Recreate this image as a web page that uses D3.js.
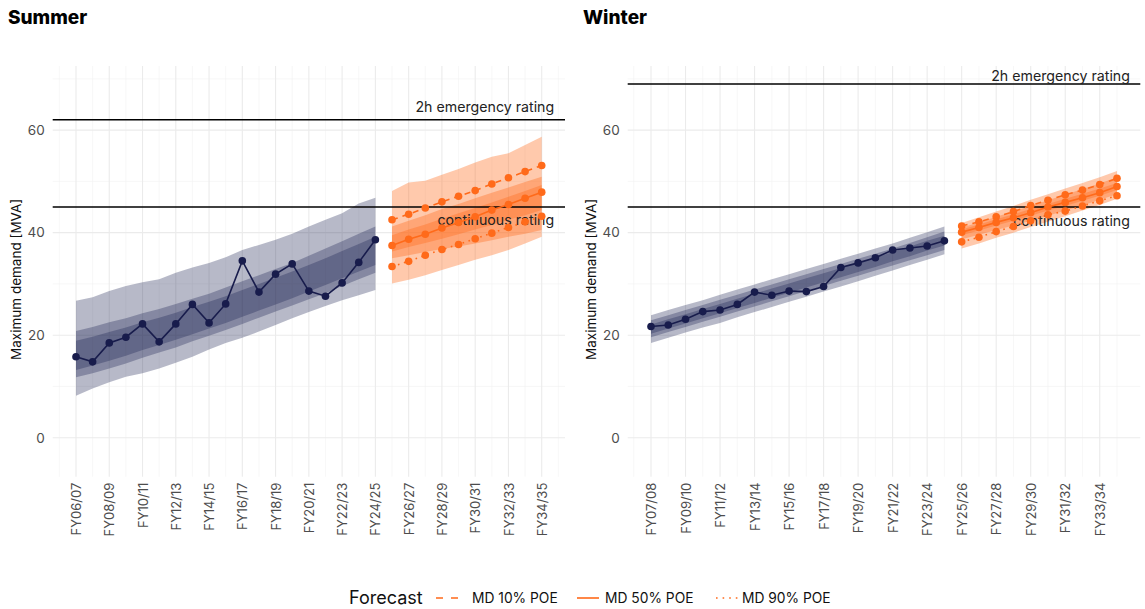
<!DOCTYPE html>
<html>
<head>
<meta charset="utf-8">
<script src="https://cdn.jsdelivr.net/npm/d3@7"></script>
<style>
body { margin: 0; background: #fff; font-family: Inter, "DejaVu Sans", sans-serif; }
</style>
</head>
<body>
<div id="chart"></div>
<script>
// ---- data ----
var summerHistYears = [2006, 2007, 2008, 2009, 2010, 2011, 2012, 2013, 2014, 2015, 2016, 2017, 2018, 2019, 2020, 2021, 2022, 2023, 2024];
var summerActual = [15.8, 14.8, 18.5, 19.6, 22.2, 18.7, 22.2, 26.0, 22.4, 26.1, 34.5, 28.4, 31.9, 33.9, 28.6, 27.6, 30.2, 34.2, 38.6];
var summerOuterHi = [26.7, 27.4, 28.6, 29.6, 30.3, 30.9, 32.2, 33.2, 34.1, 35.2, 36.6, 37.6, 38.6, 39.8, 41.2, 42.5, 43.8, 45.7, 46.8];
var summerOuterLo = [8.2, 9.6, 10.8, 11.9, 12.6, 13.5, 14.6, 15.8, 17.2, 18.5, 19.5, 20.7, 22.0, 23.3, 24.5, 25.7, 26.8, 27.8, 28.8];
var summerMidHi = [20.8, 21.6, 22.5, 23.3, 24.3, 25.1, 26.1, 27.1, 28.1, 29.3, 30.5, 31.7, 32.9, 34.1, 35.5, 36.9, 38.3, 39.8, 41.2];
var summerMidLo = [11.8, 12.6, 13.5, 14.5, 15.6, 16.6, 17.6, 18.8, 19.9, 21.0, 22.2, 23.4, 24.6, 25.8, 27.0, 28.2, 29.6, 30.9, 32.2];
var summerInHi = [18.9, 19.7, 20.6, 21.5, 22.5, 23.4, 24.4, 25.5, 26.5, 27.6, 28.8, 30.0, 31.2, 32.4, 33.7, 35.0, 36.4, 37.8, 39.2];
var summerInLo = [13.2, 14.1, 15.0, 16.0, 17.1, 18.1, 19.1, 20.2, 21.3, 22.4, 23.6, 24.8, 26.0, 27.2, 28.5, 29.8, 31.1, 32.4, 33.7];

var summerFcYears = [2025, 2026, 2027, 2028, 2029, 2030, 2031, 2032, 2033, 2034];
var summerP10 = [42.5, 43.6, 44.8, 46.0, 47.1, 48.2, 49.5, 50.7, 51.9, 53.1];
var summerP50 = [37.5, 38.7, 39.7, 40.9, 42.0, 43.1, 44.4, 45.5, 46.7, 47.9];
var summerP90 = [33.4, 34.4, 35.6, 36.7, 37.7, 38.8, 39.9, 41.0, 42.1, 43.2];
var summerFcOuterHi = [48.1, 49.8, 50.1, 51.3, 52.4, 53.7, 54.8, 55.5, 57.1, 58.7];
var summerFcOuterLo = [30.1, 30.8, 31.7, 32.7, 33.7, 34.7, 35.6, 36.6, 37.9, 39.2];
var summerFcMidHi = [41.2, 42.3, 43.4, 44.6, 45.6, 46.7, 47.8, 48.8, 49.9, 50.9];
var summerFcMidLo = [35.0, 35.6, 36.2, 36.8, 37.3, 37.9, 38.5, 39.2, 39.8, 40.5];
var summerFcInHi = [39.5, 40.6, 41.6, 42.7, 43.8, 44.8, 45.9, 47.0, 48.1, 49.3];
var summerFcInLo = [36.3, 37.2, 38.0, 38.8, 39.7, 40.6, 41.5, 42.5, 43.4, 44.4];

var winterHistYears = [2007, 2008, 2009, 2010, 2011, 2012, 2013, 2014, 2015, 2016, 2017, 2018, 2019, 2020, 2021, 2022, 2023, 2024];
var winterActual = [21.7, 22.0, 23.1, 24.6, 24.9, 26.0, 28.4, 27.8, 28.6, 28.5, 29.5, 33.2, 34.1, 35.1, 36.6, 37.0, 37.4, 38.4];
var winterOuterHi = [23.9, 24.9, 25.9, 26.8, 27.9, 28.9, 29.9, 30.9, 31.9, 32.9, 33.9, 34.9, 35.9, 36.9, 37.9, 39.0, 40.1, 41.2];
var winterOuterLo = [18.5, 19.5, 20.5, 21.5, 22.4, 23.5, 24.5, 25.5, 26.5, 27.5, 28.5, 29.5, 30.5, 31.6, 32.6, 33.7, 34.7, 35.8];
var winterMidHi = [22.9, 23.9, 24.9, 25.9, 26.9, 27.9, 28.9, 29.9, 30.9, 31.9, 32.9, 33.9, 34.9, 35.9, 36.9, 38.0, 39.1, 40.2];
var winterMidLo = [19.6, 20.6, 21.6, 22.6, 23.6, 24.6, 25.6, 26.6, 27.6, 28.6, 29.6, 30.6, 31.6, 32.6, 33.6, 34.6, 35.6, 36.6];
var winterInHi = [22.1, 23.1, 24.1, 25.1, 26.1, 27.1, 28.1, 29.1, 30.1, 31.1, 32.1, 33.1, 34.1, 35.1, 36.2, 37.3, 38.4, 39.4];
var winterInLo = [20.3, 21.3, 22.3, 23.3, 24.3, 25.3, 26.3, 27.3, 28.3, 29.3, 30.3, 31.3, 32.3, 33.3, 34.4, 35.4, 36.5, 37.5];

var winterFcYears = [2025, 2026, 2027, 2028, 2029, 2030, 2031, 2032, 2033, 2034];
var winterP10 = [41.3, 42.1, 43.1, 44.1, 45.3, 46.3, 47.4, 48.3, 49.4, 50.6];
var winterP50 = [40.1, 41.0, 42.0, 42.9, 43.9, 45.0, 45.9, 46.8, 47.8, 49.0];
var winterP90 = [38.2, 39.1, 40.2, 41.2, 42.3, 43.5, 44.2, 45.2, 46.2, 47.2];
var winterFcOuterHi = [41.9, 43.0, 44.1, 45.2, 46.4, 47.5, 48.6, 49.7, 50.8, 52.0];
var winterFcOuterLo = [36.9, 37.9, 39.0, 40.0, 41.1, 42.1, 43.2, 44.3, 45.4, 46.6];
var winterFcMidHi = [41.0, 42.0, 43.1, 44.1, 45.2, 46.3, 47.4, 48.5, 49.6, 50.8];
var winterFcMidLo = [38.7, 39.6, 40.5, 41.4, 42.3, 43.3, 44.3, 45.3, 46.4, 47.5];
var winterFcInHi = [40.6, 41.6, 42.6, 43.6, 44.6, 45.6, 46.6, 47.6, 48.6, 49.7];
var winterFcInLo = [39.5, 40.4, 41.4, 42.3, 43.3, 44.3, 45.2, 46.2, 47.2, 48.3];

var summerTickYears = [2006, 2008, 2010, 2012, 2014, 2016, 2018, 2020, 2022, 2024, 2026, 2028, 2030, 2032, 2034];
var winterTickYears = [2007, 2009, 2011, 2013, 2015, 2017, 2019, 2021, 2023, 2025, 2027, 2029, 2031, 2033];
var yTicks = [0, 20, 40, 60];
var yMinorTicks = [10, 30, 50, 70];

var summerRatings = [62, 45];
var winterRatings = [69, 45];
var ratingLabels = ["2h emergency rating", "continuous rating"];

var legendLabels = ["MD 10% POE", "MD 50% POE", "MD 90% POE"];

// ---- setup ----
var navy = "#181c4c";
var orange = "#ff6a1a";
var fontFam = "Inter, 'DejaVu Sans', sans-serif";

var svg = d3.select("#chart").append("svg")
.attr("width", 1145)
.attr("height", 609)
.style("font-family", fontFam);

var y = d3.scaleLinear().domain([-7.6, 72.5]).range([476.7, 66]);

function fyLabel(yr) {
	var a = yr % 100, b = (yr + 1) % 100;
	return "FY" + (a < 10 ? "0" : "") + a + "/" + (b < 10 ? "0" : "") + b;
}

function zip(years, arr) {
	return years.map(function(d, i) { return [d, arr[i]]; });
}

function drawPanel(p) {
	var x = d3.scaleLinear().domain(p.xDomain).range(p.xRange);
	var g = svg.append("g");

	// minor grid
	var minorX = [];
	for (var i = 0; i < p.ticks.length; i++) minorX.push(p.ticks[i] - 1);
	minorX.push(p.ticks[p.ticks.length - 1] + 1);
	g.selectAll("line.vminor").data(minorX.filter(function(d) { return d > p.xDomain[0] && d < p.xDomain[1]; }))
	.enter().append("line")
	.attr("x1", function(d) { return x(d); }).attr("x2", function(d) { return x(d); })
	.attr("y1", y.range()[0]).attr("y2", y.range()[1])
	.attr("stroke", "#f2f2f2").attr("stroke-width", 0.6);
	g.selectAll("line.hminor").data(yMinorTicks)
	.enter().append("line")
	.attr("x1", p.xRange[0]).attr("x2", p.xRange[1])
	.attr("y1", function(d) { return y(d); }).attr("y2", function(d) { return y(d); })
	.attr("stroke", "#f2f2f2").attr("stroke-width", 0.6);
	// major grid
	g.selectAll("line.vmajor").data(p.ticks)
	.enter().append("line")
	.attr("x1", function(d) { return x(d); }).attr("x2", function(d) { return x(d); })
	.attr("y1", y.range()[0]).attr("y2", y.range()[1])
	.attr("stroke", "#ebebeb").attr("stroke-width", 1.1);
	g.selectAll("line.hmajor").data(yTicks)
	.enter().append("line")
	.attr("x1", p.xRange[0]).attr("x2", p.xRange[1])
	.attr("y1", function(d) { return y(d); }).attr("y2", function(d) { return y(d); })
	.attr("stroke", "#ebebeb").attr("stroke-width", 1.1);

	// ribbons
	var area = d3.area()
	.x(function(d) { return x(d.x); })
	.y0(function(d) { return y(d.lo); })
	.y1(function(d) { return y(d.hi); });
	function band(years, lo, hi, col, op) {
		var dat = years.map(function(d, i) { return { x: d, lo: lo[i], hi: hi[i] }; });
		g.append("path").datum(dat).attr("d", area).attr("fill", col).attr("fill-opacity", op);
	}
	band(p.histYears, p.outerLo, p.outerHi, navy, 0.31);
	band(p.histYears, p.midLo, p.midHi, navy, 0.31);
	band(p.histYears, p.inLo, p.inHi, navy, 0.31);
	band(p.fcYears, p.fcOuterLo, p.fcOuterHi, orange, 0.36);
	band(p.fcYears, p.fcMidLo, p.fcMidHi, orange, 0.36);
	band(p.fcYears, p.fcInLo, p.fcInHi, orange, 0.36);

	// rating lines + labels
	g.selectAll("line.rating").data(p.ratings)
	.enter().append("line")
	.attr("x1", p.xRange[0]).attr("x2", p.xRange[1])
	.attr("y1", function(d) { return y(d); }).attr("y2", function(d) { return y(d); })
	.attr("stroke", "#000").attr("stroke-width", 1.5);
	g.selectAll("text.rating").data(p.ratings)
	.enter().append("text")
	.attr("x", x(2034.75))
	.attr("y", function(d, i) { return y(d) + p.labelOffsets[i]; })
	.attr("text-anchor", "end")
	.attr("fill", "#222")
	.style("font-size", "14.2px")
	.text(function(d, i) { return ratingLabels[i]; });

	// lines
	var line = d3.line().x(function(d) { return x(d[0]); }).y(function(d) { return y(d[1]); });
	g.append("path").datum(zip(p.histYears, p.actual)).attr("d", line)
	.attr("fill", "none").attr("stroke", navy).attr("stroke-width", 1.6);
	var fcSeries = [
		{ v: p.p10, dash: "6,5" },
		{ v: p.p50, dash: null },
		{ v: p.p90, dash: "1.6,4.6" }
	];
	fcSeries.forEach(function(s) {
		g.append("path").datum(zip(p.fcYears, s.v)).attr("d", line)
		.attr("fill", "none").attr("stroke", orange).attr("stroke-width", 1.6)
		.attr("stroke-dasharray", s.dash);
	});

	// points
	g.selectAll("circle.hist").data(zip(p.histYears, p.actual))
	.enter().append("circle")
	.attr("cx", function(d) { return x(d[0]); })
	.attr("cy", function(d) { return y(d[1]); })
	.attr("r", 3.8).attr("fill", navy);
	fcSeries.forEach(function(s) {
		g.selectAll(null).data(zip(p.fcYears, s.v))
		.enter().append("circle")
		.attr("cx", function(d) { return x(d[0]); })
		.attr("cy", function(d) { return y(d[1]); })
		.attr("r", 3.8).attr("fill", orange);
	});

	// y axis
	var yAxis = d3.axisLeft(y).tickValues(yTicks).tickSize(0).tickPadding(8);
	var ya = g.append("g").attr("transform", "translate(" + p.xRange[0] + ",0)").call(yAxis);
	ya.select(".domain").remove();
	ya.selectAll("text").style("font-size", "13.5px").style("font-family", fontFam).attr("fill", "#4d4d4d");

	// x axis
	var xAxis = d3.axisBottom(x).tickValues(p.ticks).tickSize(0).tickFormat(fyLabel);
	var xa = g.append("g").attr("transform", "translate(0," + y.range()[0] + ")").call(xAxis);
	xa.select(".domain").remove();
	xa.selectAll("text")
	.style("font-size", "13px").style("font-family", fontFam).attr("fill", "#4d4d4d")
	.attr("transform", "rotate(-90)")
	.attr("text-anchor", "end")
	.attr("x", -6).attr("y", 0).attr("dy", "0.35em");

	// y title
	svg.append("text")
	.attr("transform", "translate(" + p.yTitleX + "," + ((y.range()[0] + y.range()[1]) / 2 + 8) + ") rotate(-90)")
	.attr("text-anchor", "middle")
	.attr("dy", "0.35em")
	.style("font-size", "13.5px")
	.attr("fill", "#111")
	.text("Maximum demand [MVA]");

	// panel title
	svg.append("text")
	.attr("x", p.titleX).attr("y", 24)
	.style("font-size", "19px").style("font-weight", 800)
	.attr("fill", "#000")
	.text(p.title);
}

drawPanel({
	title: "Summer", titleX: 8, yTitleX: 16, labelOffsets: [-8, 18],
	xDomain: [2004.6, 2035.4], xRange: [52.7, 565],
	ticks: summerTickYears, ratings: summerRatings,
	histYears: summerHistYears, actual: summerActual,
	outerHi: summerOuterHi, outerLo: summerOuterLo, midHi: summerMidHi, midLo: summerMidLo, inHi: summerInHi, inLo: summerInLo,
	fcYears: summerFcYears, p10: summerP10, p50: summerP50, p90: summerP90,
	fcOuterHi: summerFcOuterHi, fcOuterLo: summerFcOuterLo, fcMidHi: summerFcMidHi, fcMidLo: summerFcMidLo, fcInHi: summerFcInHi, fcInLo: summerFcInLo
});

drawPanel({
	title: "Winter", titleX: 583, yTitleX: 591, labelOffsets: [-3, 19],
	xDomain: [2005.65, 2035.35], xRange: [627.7, 1140.3],
	ticks: winterTickYears, ratings: winterRatings,
	histYears: winterHistYears, actual: winterActual,
	outerHi: winterOuterHi, outerLo: winterOuterLo, midHi: winterMidHi, midLo: winterMidLo, inHi: winterInHi, inLo: winterInLo,
	fcYears: winterFcYears, p10: winterP10, p50: winterP50, p90: winterP90,
	fcOuterHi: winterFcOuterHi, fcOuterLo: winterFcOuterLo, fcMidHi: winterFcMidHi, fcMidLo: winterFcMidLo, fcInHi: winterFcInHi, fcInLo: winterFcInLo
});

// ---- legend ----
var legend = svg.append("g").attr("transform", "translate(0,598)");
legend.append("text").attr("x", 349).attr("dy", "0.35em")
.style("font-size", "18px").attr("fill", "#111").text("Forecast");
var keyX = [436, 577, 716];
var labX = [472, 605, 742];
var keyDash = ["7,8", null, "1.6,5"];
legendLabels.forEach(function(lab, i) {
	legend.append("line")
	.attr("x1", keyX[i]).attr("x2", keyX[i] + 22)
	.attr("y1", 0).attr("y2", 0)
	.attr("stroke", orange).attr("stroke-width", 1.6)
	.attr("stroke-dasharray", keyDash[i]);
	legend.append("text").attr("x", labX[i]).attr("dy", "0.35em")
	.style("font-size", "13.8px").attr("fill", "#111").text(lab);
});
</script>
</body>
</html>
